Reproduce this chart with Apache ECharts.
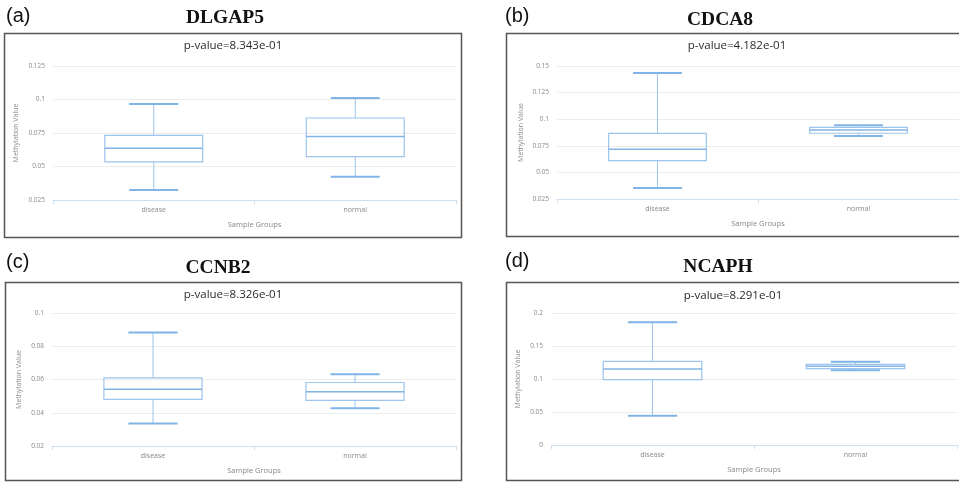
<!DOCTYPE html>
<html>
<head>
<meta charset="utf-8">
<script src="https://cdn.jsdelivr.net/npm/echarts@6/dist/echarts.min.js"></script>
<style>
  html, body { margin: 0; padding: 0; background: #fff; }
  #chart { width: 959px; height: 483px; }
</style>
</head>
<body>
<div id="chart"></div>
<script>
// groups on the x axis
var groups = ['disease', 'normal'];

// [min, Q1, median, Q3, max] per group
var dlgap5Disease = [0.0325, 0.0534, 0.0636, 0.0733, 0.0966];
var dlgap5Normal  = [0.0424, 0.0573, 0.0723, 0.0862, 0.1011];
var cdca8Disease  = [0.0353, 0.0611, 0.0718, 0.0867, 0.1435];
var cdca8Normal   = [0.0842, 0.0868, 0.0898, 0.0924, 0.0942];
var ccnb2Disease  = [0.0335, 0.0481, 0.0542, 0.0610, 0.0883];
var ccnb2Normal   = [0.0427, 0.0475, 0.0526, 0.0582, 0.0632];
var ncaphDisease  = [0.0444, 0.0990, 0.1152, 0.1268, 0.1859];
var ncaphNormal   = [0.1132, 0.1156, 0.1192, 0.1223, 0.1262];

// panel texts
var genes   = ['DLGAP5', 'CDCA8', 'CCNB2', 'NCAPH'];
var letters = ['(a)', '(b)', '(c)', '(d)'];
var pValues = ['p-value=8.343e-01', 'p-value=4.182e-01', 'p-value=8.326e-01', 'p-value=8.291e-01'];

// y axis ranges [min, max, interval]
var yRanges = [
    [0.025, 0.125, 0.025],
    [0.025, 0.15, 0.025],
    [0.02, 0.1, 0.02],
    [0, 0.2, 0.05]
];

var boxData = [
    [dlgap5Disease, dlgap5Normal],
    [cdca8Disease, cdca8Normal],
    [ccnb2Disease, ccnb2Normal],
    [ncaphDisease, ncaphNormal]
];

var chart = echarts.init(document.getElementById('chart'));

// layout of the four panels
var grids = [
    { left: 53, right: 503, top: 66, bottom: 283 },
    { left: 557, right: -2, top: 66, bottom: 284 },
    { left: 52, right: 503, top: 313, bottom: 37 },
    { left: 551, right: 2, top: 313, bottom: 38 }
];
var nameGaps = [34, 33, 30, 30];
var frames = [
    { x: 4.5, y: 33.5, width: 457, height: 204 },
    { x: 506.5, y: 33.5, width: 470, height: 203 },
    { x: 5.5, y: 282.5, width: 456, height: 198 },
    { x: 506.5, y: 282.5, width: 470, height: 198 }
];
var geneTitlePos = [[225, 18], [720, 20], [218, 268], [718, 267]];
var letterPos = [[6, 16], [505, 16], [6, 262], [505, 261]];
var pPos = [[233, 46], [737, 46], [233, 295], [733, 296]];

var boxColor = '#9cc4ec';
var lineColor = '#80b3e6';

function renderBox(params, api) {
    var c = api.value(0);
    var lo = api.coord([c, api.value(1)]);
    var q1 = api.coord([c, api.value(2)]);
    var md = api.coord([c, api.value(3)]);
    var q3 = api.coord([c, api.value(4)]);
    var hi = api.coord([c, api.value(5)]);
    var band = api.size([1, 0])[0];
    var hw = band * 0.243;
    var cw = hw / 2;
    var cx = md[0];
    return {
        type: 'group',
        children: [
            { type: 'line', shape: { x1: cx, y1: hi[1], x2: cx, y2: q3[1] },
              style: { stroke: boxColor, lineWidth: 1 } },
            { type: 'line', shape: { x1: cx, y1: q1[1], x2: cx, y2: lo[1] },
              style: { stroke: boxColor, lineWidth: 1 } },
            { type: 'rect', shape: { x: cx - hw, y: q3[1], width: hw * 2, height: q1[1] - q3[1] },
              style: { fill: 'rgba(255,255,255,0)', stroke: boxColor, lineWidth: 1.2 } },
            { type: 'line', shape: { x1: cx - hw, y1: md[1], x2: cx + hw, y2: md[1] },
              style: { stroke: lineColor, lineWidth: 1.5 } },
            { type: 'line', shape: { x1: cx - cw, y1: hi[1], x2: cx + cw, y2: hi[1] },
              style: { stroke: lineColor, lineWidth: 2 } },
            { type: 'line', shape: { x1: cx - cw, y1: lo[1], x2: cx + cw, y2: lo[1] },
              style: { stroke: lineColor, lineWidth: 2 } }
        ]
    };
}

var xAxes = [], yAxes = [], series = [], graphics = [];

for (var i = 0; i < 4; i++) {
    xAxes.push({
        type: 'category',
        gridIndex: i,
        data: groups,
        boundaryGap: true,
        name: 'Sample Groups',
        nameLocation: 'middle',
        nameGap: 21,
        nameTextStyle: { color: '#888', fontSize: 7.5, fontFamily: 'Open Sans' },
        axisLine: { lineStyle: { color: '#cddff2', width: 1 } },
        axisTick: { show: true, length: 4, lineStyle: { color: '#cddff2' } },
        axisLabel: { color: '#888', fontSize: 7, margin: 6, fontFamily: 'Open Sans' },
        splitLine: { show: false }
    });
    yAxes.push({
        type: 'value',
        gridIndex: i,
        min: yRanges[i][0],
        max: yRanges[i][1],
        interval: yRanges[i][2],
        name: 'Methylation Value',
        nameLocation: 'middle',
        nameGap: nameGaps[i],
        nameRotate: 90,
        nameTextStyle: { color: '#888', fontSize: 7, fontFamily: 'Open Sans' },
        axisLine: { show: false },
        axisTick: { show: false },
        axisLabel: { color: '#888', fontSize: 6.5, margin: 8, fontFamily: 'Open Sans' },
        splitLine: { lineStyle: { color: '#ececec', width: 1 } }
    });
    series.push({
        type: 'custom',
        xAxisIndex: i,
        yAxisIndex: i,
        renderItem: renderBox,
        encode: { x: 0, y: [1, 2, 3, 4, 5] },
        data: boxData[i].map(function (d, k) { return [k].concat(d); }),
        z: 5
    });
    graphics.push({
        type: 'rect',
        shape: frames[i],
        style: { fill: 'none', stroke: '#555', lineWidth: 1.5 },
        silent: true
    });
    graphics.push({
        type: 'text',
        x: geneTitlePos[i][0], y: geneTitlePos[i][1],
        style: { text: genes[i], align: 'center', verticalAlign: 'middle',
                 font: 'bold 19.5px "Liberation Serif"', fill: '#111' }
    });
    graphics.push({
        type: 'text',
        x: letterPos[i][0], y: letterPos[i][1],
        style: { text: letters[i], align: 'left', verticalAlign: 'middle',
                 font: '20px "Liberation Sans"', fill: '#111' }
    });
    graphics.push({
        type: 'text',
        x: pPos[i][0], y: pPos[i][1],
        style: { text: pValues[i], align: 'center', verticalAlign: 'middle',
                 font: '11.5px "Open Sans"', fill: '#2a2a2a' }
    });
}

chart.setOption({
    animation: false,
    backgroundColor: '#fff',
    grid: grids,
    xAxis: xAxes,
    yAxis: yAxes,
    series: series,
    graphic: graphics
});
</script>
</body>
</html>
